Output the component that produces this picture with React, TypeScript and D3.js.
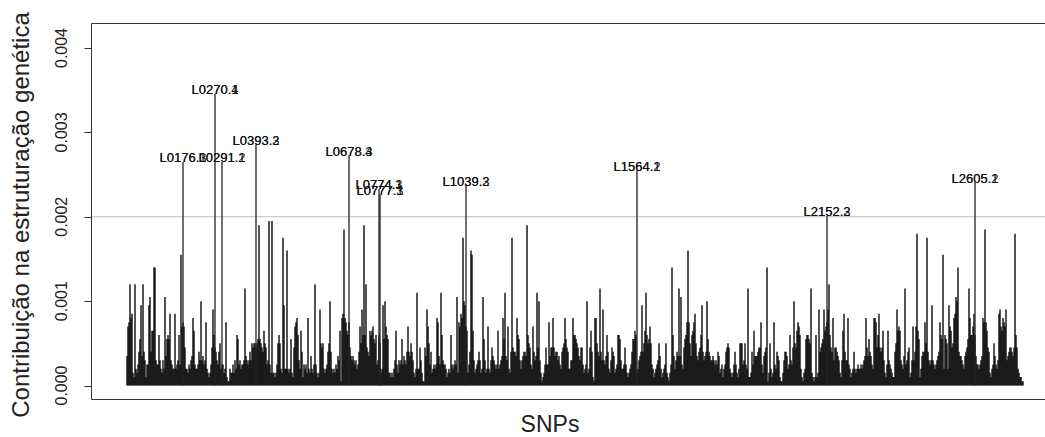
import * as d3 from "d3";

// SNP contributions, one bin per SNP column, in units of 0.00005
// (0-9 -> 0..9, a-z -> 10..35, A-Z -> 36..61)
const levelUnit = 0.00005;
const levelsA = "7efogh32o4 358bj7o862 55jl8ddss6 55c64364l7 bcbh6544h4 56c5vefe94 435467gd54 4586k6756f 432359ic98 658a45534f 2114335364 cb564556n7 65686a9aa9 abCba98da9 56D53D3323 5ac";
const levelsB = "a43zj44w43 4b329efgc6 4d825453g4 37435o5323 ia9a43458a k843435476 d1ghBgfdcf 9767656458 eaicCco987 dcdebac56c a34jbkecb3 323246d536 56b57658e8 7a86324m44 9631197iea";
const levelsC = "5834545gf7 5mc6554234 3c54565l3f ehgzkjed35 8wvd634568 634lb634e4 36976545d4 567gbm76e4 38z9887gcb 6467887Cca 954e867m9k 631235955f 799g978867 5489agb984 466gccba97";
const levelsD = "6995345k34 9d821gga87 n86i657c84 36987345cc b644595323 458bbdc346 78j8admcab ea5423456a 742345a321 35sc74687n 7l549bcfwf a7cdfha768 9cj8678kb8 7667656587 34524589a9";
const levelsE = "4323585324 aaa56a54n2 2385d77789 9f53789s13 a423f54876 2113688745 c659ka9dfe c42134bccb an3212c23i 89abidefio c98g699876 326dh866g5 4234843454 454567g97b 8754ggf9ch";
const levelsF = "989d6325d6 543228aide d6547n5689 236e68eAdb 24788faz86 56j6545678 fcbv4cba4j ed9aghlks8 77654789bn gccehc7554 567gfBfd98 3245a7546h iedgfei678 99879Ac943 2211";

// labelled loci (two alleles each, drawn on top of each other)
const peakLabels = [
  ["L0176.3", "L0176.1"],
  ["L0270.4", "L0270.1"],
  ["L0291.2", "L0291.1"],
  ["L0393.2", "L0393.3"],
  ["L0678.3", "L0678.4"],
  ["L0774.3", "L0774.1"],
  ["L0777.3", "L0777.1"],
  ["L1039.2", "L1039.3"],
  ["L1564.2", "L1564.1"],
  ["L2152.2", "L2152.3"],
  ["L2605.2", "L2605.1"],
];
const peakBins = [56, 88, 95, 129, 222, 252, 253, 339, 510, 700, 848];
const peakValues = [0.00265, 0.00346, 0.00265, 0.00286, 0.00273, 0.00233, 0.00226, 0.00237, 0.00255, 0.00201, 0.00241];

const yTicks = [0, 0.001, 0.002, 0.003, 0.004];
const threshold = 0.002;
const yMax = 0.00413;

function decode(code: string) {
  const c = code.charCodeAt(0);
  if (c <= 57) return c - 48;
  if (c >= 97) return c - 97 + 10;
  return c - 65 + 36;
}

const levels = [levelsA, levelsB, levelsC, levelsD, levelsE, levelsF]
  .join("")
  .replace(/\s+/g, "")
  .split("")
  .map((ch) => decode(ch) * levelUnit);

export default function App() {
  const width = 1045;
  const height = 437;
  const n = levels.length;

  const x = d3.scaleLinear().domain([0, n - 1]).range([127, 1023]);
  const y = d3.scaleLinear().domain([0, 0.004]).range([385.5, 48]);

  const frameLeft = Math.round(x(-(n - 1) * 0.04)) + 0.5;
  const frameTop = Math.round(y(yMax * 1.04)) + 0.5;
  const frameBottom = Math.round(y(-yMax * 0.04)) + 0.5;

  const font = "'Liberation Sans', Arial, Helvetica, sans-serif";

  return (
    <svg
      width={width}
      height={height}
      viewBox={`0 0 ${width} ${height}`}
      style={{ position: "absolute", left: 0, top: 0, background: "#fff" }}
      fontFamily={font}
    >
      <rect x={0} y={0} width={width} height={height} fill="#fff" />

      {/* bars */}
      <g stroke="#000" strokeWidth={1.35}>
        {levels.map((v, i) => (
          <line key={i} x1={x(i)} x2={x(i)} y1={y(0)} y2={y(v)} />
        ))}
      </g>

      <line x1={frameLeft} x2={width} y1={y(threshold)} y2={y(threshold)} stroke="#bebebe" strokeWidth={1} />

      <g stroke="#222" strokeWidth={1.3}>
        {peakBins.map((b, i) => (
          <line key={i} x1={x(b)} x2={x(b)} y1={y(0)} y2={y(peakValues[i])} />
        ))}
      </g>

      <g fontSize={13} textAnchor="middle" fill="#111">
        {peakBins.map((b, i) =>
          peakLabels[i].map((name, k) => (
            <text key={`${i}-${k}`} x={x(b)} y={y(peakValues[i]) - 4} dy="0.35em">
              {name}
            </text>
          ))
        )}
      </g>

      {/* frame */}
      <path
        d={`M${width + 2},${frameTop}H${frameLeft}V${frameBottom}H${width + 2}`}
        fill="none"
        stroke="#333"
        strokeWidth={1}
      />

      {/* y axis */}
      <g stroke="#333" strokeWidth={1}>
        {yTicks.map((t) => (
          <line key={t} x1={frameLeft - 7} x2={frameLeft} y1={Math.round(y(t)) + 0.5} y2={Math.round(y(t)) + 0.5} />
        ))}
      </g>
      <g fontSize={16} textAnchor="middle" fill="#222">
        {yTicks.map((t) => (
          <text key={t} transform={`translate(67,${y(t)}) rotate(-90)`}>
            {d3.format(".3f")(t)}
          </text>
        ))}
      </g>

      <text transform="translate(29,215) rotate(-90)" textAnchor="middle" fontSize={24} fill="#222">
        Contribuição na estruturação genética
      </text>
      <text x={550} y={432} textAnchor="middle" fontSize={23} fill="#222">
        SNPs
      </text>
    </svg>
  );
}
